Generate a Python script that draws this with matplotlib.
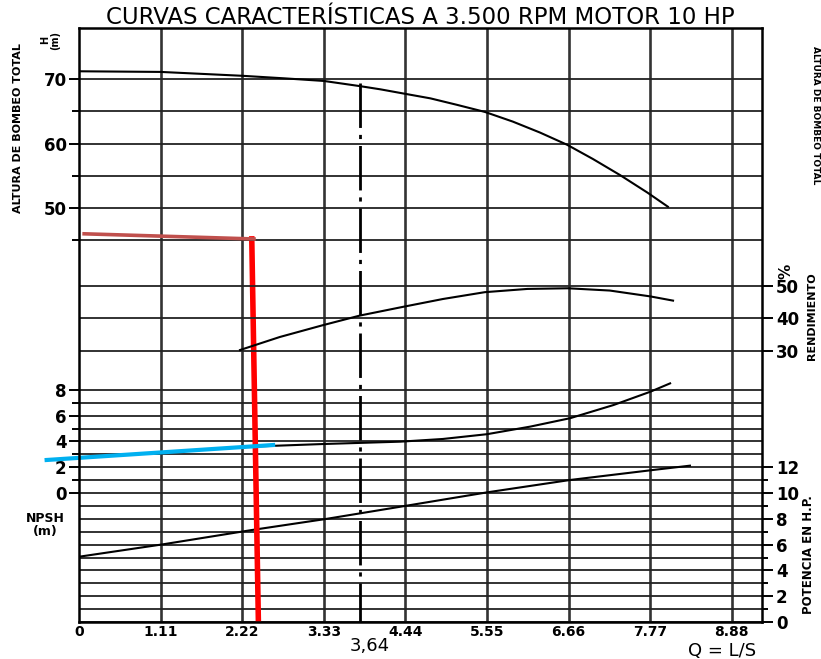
import matplotlib
matplotlib.use('Agg')
import matplotlib.pyplot as plt

# frame of the scanned chart, in pixels
W, H = 821, 659
X0, X1, Y0, Y1 = 79, 762, 28, 622

# x axis: caudal Q (L/s)
q_ticks = [0, 1.11, 2.22, 3.33, 4.44, 5.55, 6.66, 7.77, 8.88]
q_labels = ['0', '1.11', '2.22', '3.33', '4.44', '5.55', '6.66', '7.77', '8.88']
q_lim = (0, 9.29)
q_op = 3.82          # dash-dot operating line
q_op_label = '3,64'

# altura de bombeo total H (m)
q_head = [0, 1.11, 2.22, 2.8, 3.33, 3.82, 4.10, 4.39, 4.78, 5.14, 5.52, 5.90,
          6.27, 6.64, 6.99, 7.36, 7.73, 8.01]
h_head = [71.2, 71.1, 70.5, 70.1, 69.7, 68.9, 68.4, 67.8, 67.0, 66.0, 64.9, 63.4,
          61.7, 59.8, 57.6, 55.1, 52.4, 50.2]
head_grid = [70, 65, 60, 55, 50, 45]
head_lim = (-14.19, 77.91)

# rendimiento (%)
q_eff = [2.19, 2.73, 3.31, 3.82, 4.41, 4.95, 5.52, 6.10, 6.65, 7.22, 7.77, 8.08]
e_eff = [30.3, 34.3, 37.9, 40.9, 43.6, 46.0, 48.1, 49.1, 49.3, 48.6, 46.8, 45.5]
eff_grid = [50, 40, 30]
eff_lim = (-53.38, 129.38)

# NPSH (m)
q_npsh = [2.22, 3.33, 4.37, 4.95, 5.55, 6.14, 6.68, 7.27, 7.77, 8.04]
n_npsh = [3.57, 3.80, 3.98, 4.19, 4.56, 5.15, 5.80, 6.82, 7.85, 8.50]
npsh_lim = (-10, 36.05)

# potencia (H.P.)
q_pow = [0, 1.14, 2.35, 3.35, 3.82, 4.30, 5.55, 6.68, 7.80, 8.31]
p_pow = [5.06, 6.02, 7.13, 7.98, 8.42, 8.87, 10.05, 11.01, 11.78, 12.12]
pow_grid = list(range(0, 19))
pow_lim = (0, 46.05)

# hand-drawn marks on the scan
q_brown = [0.07, 2.38]
h_brown = [46.0, 45.2]
q_red = [2.35, 2.44]
p_red = [29.7, 0]
q_blue = [-0.44, 2.64]
n_blue = [2.56, 3.72]

fig = plt.figure(figsize=(W / 100, H / 100), dpi=100)
rect = [X0 / W, 1 - Y1 / H, (X1 - X0) / W, (Y1 - Y0) / H]
ax = fig.add_axes(rect)
ax_p = ax.twinx()
ax_e = ax.twinx()
ax_n = ax.twinx()
ax_p.set_zorder(1)
ax_e.set_zorder(2)
ax_n.set_zorder(3)
ax.set_zorder(4)
ax.patch.set_visible(False)
for a in (ax_p, ax_e, ax_n):
    for s in a.spines.values():
        s.set_visible(False)
for s in ax.spines.values():
    s.set_linewidth(1.8)

ax.set_xlim(q_lim)
ax.set_ylim(head_lim)
ax_e.set_ylim(eff_lim)
ax_n.set_ylim(npsh_lim)
ax_p.set_ylim(pow_lim)

grid_kw = dict(color='#222222', lw=1.3, zorder=1)
for q in q_ticks[1:]:
    ax_p.axvline(q, color='#333333', lw=1.9, zorder=1)
for p in pow_grid:
    ax_p.axhline(p, **grid_kw)
for e in eff_grid:
    ax_e.axhline(e, **grid_kw)
for h in head_grid:
    ax.axhline(h, **grid_kw)

curve_kw = dict(color='black', lw=1.5, zorder=3)
ax.plot(q_head, h_head, **curve_kw)
ax_e.plot(q_eff, e_eff, **curve_kw)
ax_n.plot(q_npsh, n_npsh, **curve_kw)
ax_p.plot(q_pow, p_pow, **curve_kw)

ax.plot([q_op, q_op], [69.4, head_lim[0]], color='black', lw=2,
        linestyle=(0, (16, 2.5, 1.5, 2.5)), zorder=3)

ax.plot(q_brown, h_brown, color='#c0504d', lw=2.6, zorder=6, clip_on=False)
ax_n.plot(q_blue, n_blue, color='#00b0f0', lw=3, zorder=6, clip_on=False)
ax_p.plot(q_red, p_red, color='#ff0000', lw=4, zorder=7)

# x ticks
ax.set_xticks(q_ticks)
ax.set_xticklabels(q_labels, fontsize=10, fontweight='bold')
ax.tick_params(axis='x', length=0, pad=2)

# left: head
ax.set_yticks([70, 60, 50])
ax.set_yticklabels(['70', '60', '50'], fontsize=12, fontweight='bold')
ax.set_yticks([65, 55, 45], minor=True)
ax.tick_params(axis='y', which='major', length=7, width=1.4, pad=2)
ax.tick_params(axis='y', which='minor', length=5, width=1.4)

# left: NPSH
ax_n.yaxis.set_ticks_position('left')
ax_n.set_yticks([8, 6, 4, 2, 0])
ax_n.set_yticklabels(['8', '6', '4', '2', '0'], fontsize=12, fontweight='bold')
ax_n.set_yticks([7, 5, 3, 1], minor=True)
ax_n.tick_params(axis='y', which='major', length=7, width=1.4, pad=2)
ax_n.tick_params(axis='y', which='minor', length=5, width=1.4)

# right: efficiency
ax_e.set_yticks(eff_grid)
ax_e.set_yticklabels([str(e) for e in eff_grid], fontsize=12, fontweight='bold')
ax_e.tick_params(axis='y', length=8, width=1.4, pad=2)

# right: power
ax_p.set_yticks(list(range(0, 13, 2)))
ax_p.set_yticklabels([str(p) for p in range(0, 13, 2)], fontsize=12, fontweight='bold')
ax_p.set_yticks(list(range(1, 12, 2)), minor=True)
ax_p.tick_params(axis='y', which='major', length=8, width=1.4, pad=2)
ax_p.tick_params(axis='y', which='minor', length=4, width=1.4)


def ft(x, y, s, **kw):
    fig.text(x / W, 1 - y / H, s, **kw)


ft(420, 17, 'CURVAS CARACTERÍSTICAS A 3.500 RPM MOTOR 10 HP',
   ha='center', va='center', fontsize=16.5)
ft(18, 128, 'ALTURA DE BOMBEO TOTAL', rotation=90, ha='center', va='center',
   fontsize=8, fontweight='bold')
ft(50, 40, 'H\n(m)', rotation=90, ha='center', va='center', fontsize=7,
   fontweight='bold', linespacing=1.0)
ft(45, 525, 'NPSH\n(m)', ha='center', va='center', fontsize=9,
   fontweight='bold', linespacing=1.1)
ft(786, 271, '%', rotation=90, ha='center', va='center', fontsize=11,
   fontweight='bold')
ft(812, 316, 'RENDIMIENTO', rotation=90, ha='center', va='center',
   fontsize=8, fontweight='bold')
ft(808, 555, 'POTENCIA EN H.P.', rotation=90, ha='center', va='center',
   fontsize=8.5, fontweight='bold')
ft(815, 115, 'ALTURA DE BOMBEO TOTAL', rotation=270, ha='center', va='center',
   fontsize=6.5, fontweight='bold')
ft(370, 646, q_op_label, ha='center', va='center', fontsize=13)
ft(722, 651, 'Q = L/S', ha='center', va='center', fontsize=13)

fig.savefig('out.png', dpi=100, facecolor='white')
